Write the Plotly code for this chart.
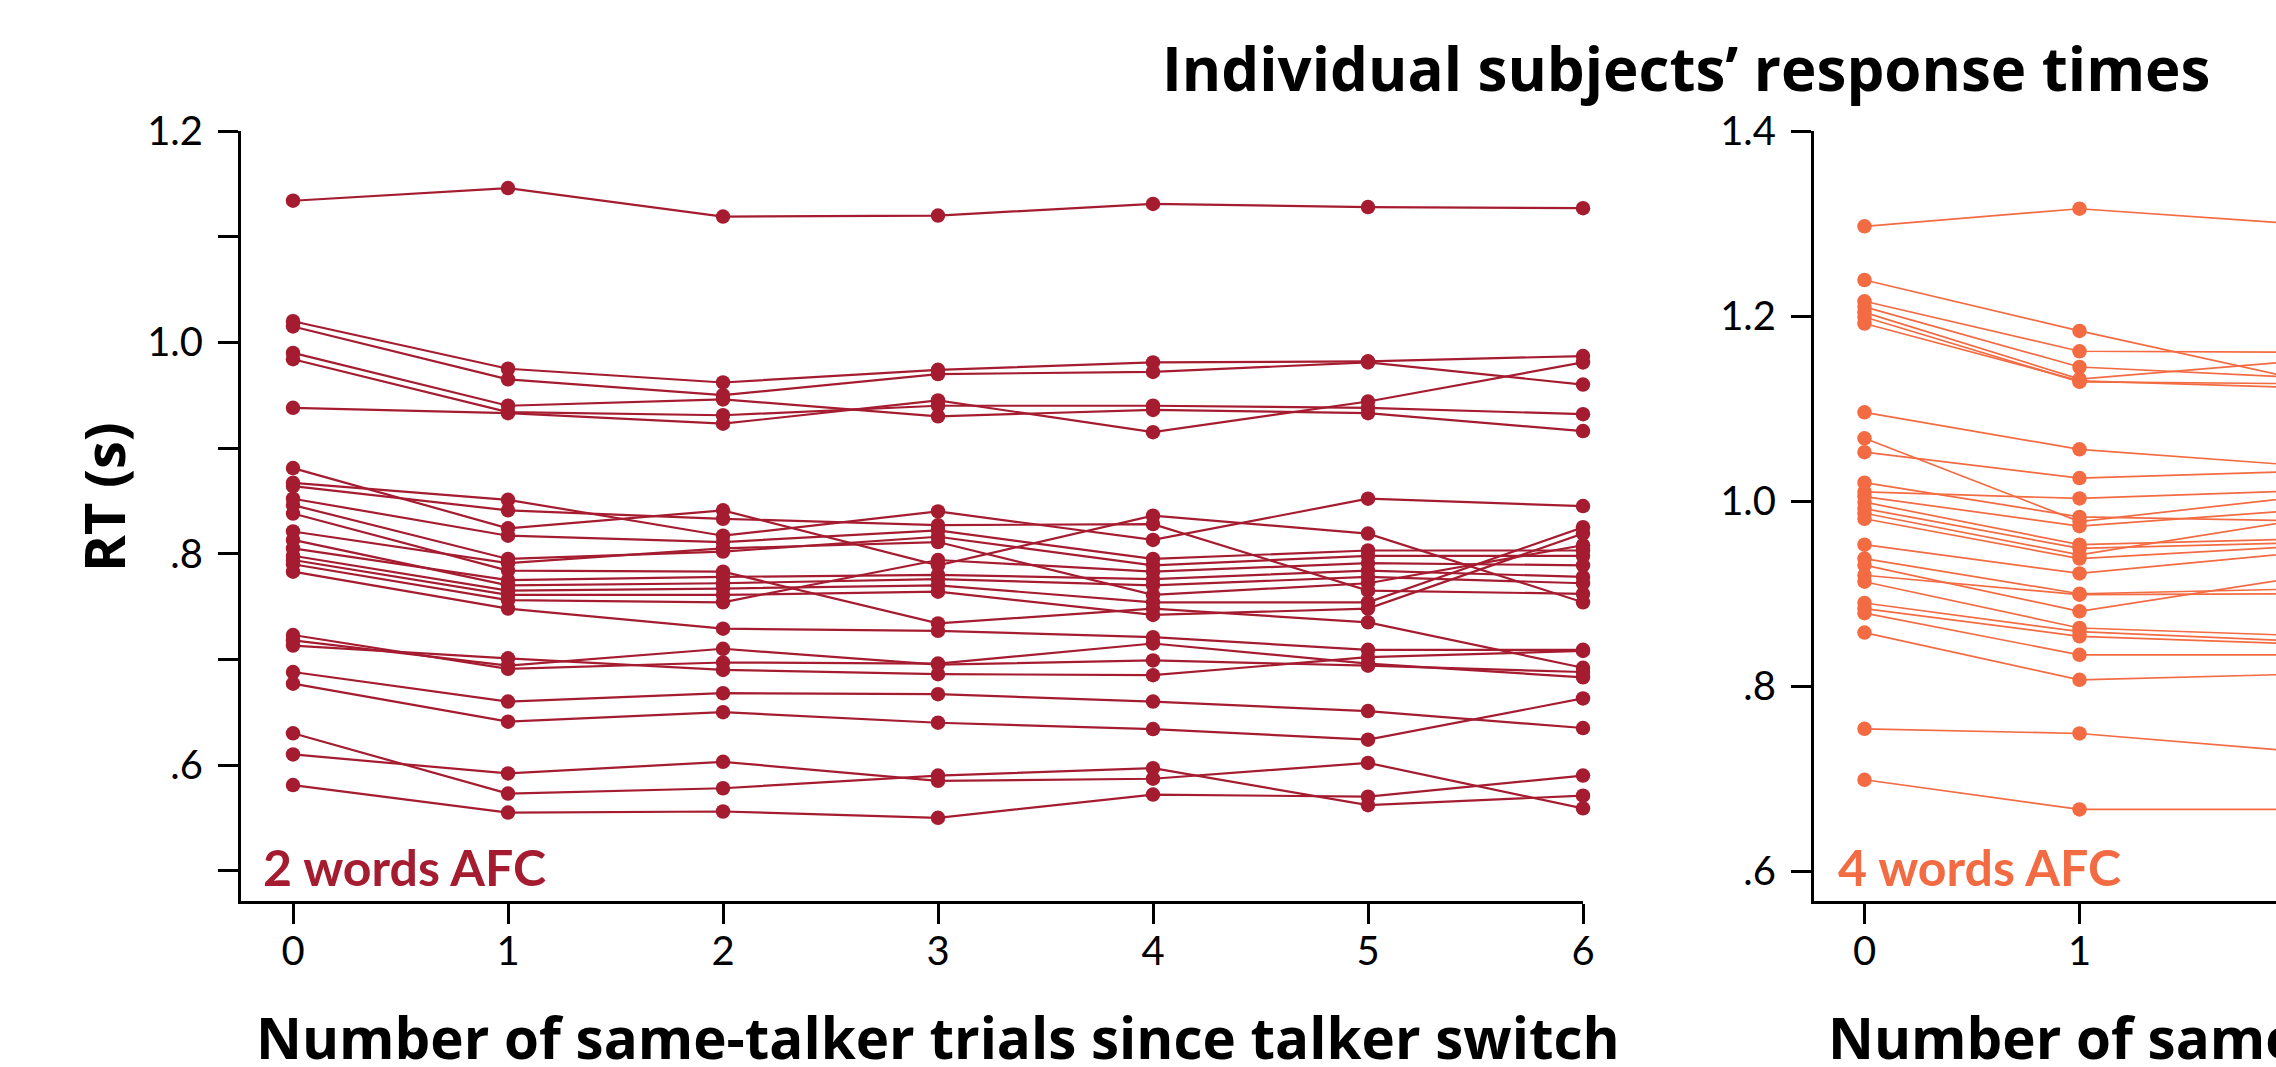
import plotly.graph_objects as go

# Trial positions since the last talker switch
trials_2afc = [0, 1, 2, 3, 4, 5, 6]
trials_4afc = [0, 1, 2]
x_tick_labels = ["0", "1", "2", "3", "4", "5", "6"]

# 2-word AFC: one list per trial position, one entry per subject (RT in s)
rt2_t0 = [1.134, 1.020, 1.015, 0.990, 0.984, 0.938, 0.881, 0.867, 0.864, 0.852, 0.846, 0.838, 0.821, 0.813,
          0.805, 0.798, 0.794, 0.790, 0.783, 0.723, 0.718, 0.713, 0.688, 0.677, 0.630, 0.610, 0.581]
rt2_t1 = [1.146, 0.975, 0.965, 0.940, 0.934, 0.933, 0.824, 0.851, 0.841, 0.817, 0.795, 0.784, 0.791, 0.770,
          0.775, 0.765, 0.761, 0.756, 0.748, 0.691, 0.694, 0.701, 0.660, 0.641, 0.573, 0.592, 0.555]
rt2_t2 = [1.119, 0.962, 0.950, 0.946, 0.931, 0.923, 0.841, 0.817, 0.833, 0.811, 0.802, 0.783, 0.805, 0.772,
          0.778, 0.767, 0.761, 0.754, 0.729, 0.697, 0.710, 0.690, 0.668, 0.650, 0.578, 0.603, 0.556]
rt2_t3 = [1.120, 0.974, 0.970, 0.930, 0.940, 0.945, 0.789, 0.840, 0.827, 0.822, 0.816, 0.734, 0.811, 0.776,
          0.780, 0.770, 0.764, 0.794, 0.727, 0.696, 0.695, 0.686, 0.667, 0.640, 0.590, 0.585, 0.550]
rt2_t4 = [1.131, 0.981, 0.972, 0.936, 0.940, 0.915, 0.836, 0.813, 0.828, 0.795, 0.789, 0.748, 0.761, 0.770,
          0.776, 0.754, 0.742, 0.783, 0.721, 0.715, 0.699, 0.685, 0.660, 0.634, 0.597, 0.587, 0.572]
rt2_t5 = [1.128, 0.982, 0.981, 0.933, 0.938, 0.944, 0.819, 0.852, 0.765, 0.803, 0.798, 0.735, 0.772, 0.778,
          0.784, 0.754, 0.748, 0.791, 0.709, 0.696, 0.694, 0.702, 0.651, 0.624, 0.562, 0.602, 0.570]
rt2_t6 = [1.127, 0.987, 0.960, 0.916, 0.932, 0.981, 0.754, 0.845, 0.762, 0.803, 0.798, 0.692, 0.808, 0.772,
          0.778, 0.825, 0.819, 0.789, 0.709, 0.683, 0.688, 0.708, 0.635, 0.663, 0.571, 0.559, 0.590]

# 4-word AFC: same layout, first three trial positions
rt4_t0 = [1.297, 1.239, 1.216, 1.210, 1.204, 1.199, 1.192, 1.096, 1.068, 1.053, 1.020, 1.010, 1.005, 0.999,
          0.992, 0.987, 0.981, 0.953, 0.938, 0.931, 0.920, 0.913, 0.890, 0.884, 0.879, 0.858, 0.754, 0.699]
rt4_t1 = [1.316, 1.184, 1.162, 1.145, 1.132, 1.129, 1.130, 1.056, 0.978, 1.025, 0.983, 1.003, 0.973, 0.953,
          0.949, 0.942, 0.938, 0.922, 0.900, 0.881, 0.899, 0.863, 0.859, 0.854, 0.834, 0.807, 0.749, 0.667]
rt4_t2 = [1.300, 1.133, 1.161, 1.134, 1.151, 1.127, 1.123, 1.039, 1.004, 1.032, 0.979, 1.011, 0.990, 0.959,
          0.955, 0.979, 0.951, 0.944, 0.905, 0.917, 0.900, 0.855, 0.849, 0.846, 0.834, 0.813, 0.730, 0.667]

y2_ticks = [0.5, 0.6, 0.7, 0.8, 0.9, 1.0, 1.1, 1.2]
y2_labels = ["", ".6", "", ".8", "", "1.0", "", "1.2"]
y4_ticks = [0.6, 0.8, 1.0, 1.2, 1.4]
y4_labels = [".6", ".8", "1.0", "1.2", "1.4"]

title_text = "Individual subjects’ response times"
xlabel_text = "Number of same-talker trials since talker switch"
ylabel_text = "RT (s)"
panel_labels = ["2 words AFC", "4 words AFC"]

CRIMSON = "#A51C30"
ORANGE = "#F26B43"
W, H = 2276, 1067
TICK_FONT = "Lato"
HEAD_FONT = "Open Sans"

fig = go.Figure()

rows2 = list(zip(rt2_t0, rt2_t1, rt2_t2, rt2_t3, rt2_t4, rt2_t5, rt2_t6))
for subj in rows2:
    fig.add_trace(go.Scatter(
        x=trials_2afc, y=list(subj), mode="lines+markers", xaxis="x", yaxis="y",
        line=dict(color=CRIMSON, width=2.2), marker=dict(color=CRIMSON, size=14.5),
        cliponaxis=False, showlegend=False, hoverinfo="skip"))

rows4 = list(zip(rt4_t0, rt4_t1, rt4_t2))
for subj in rows4:
    fig.add_trace(go.Scatter(
        x=trials_4afc, y=list(subj), mode="lines+markers", xaxis="x2", yaxis="y2",
        line=dict(color=ORANGE, width=1.7), marker=dict(color=ORANGE, size=14.5),
        cliponaxis=False, showlegend=False, hoverinfo="skip"))


def px_x(p):
    return p / W


def px_y(p):
    return (H - p) / H


axis_common = dict(
    showline=True, linecolor="black", linewidth=3,
    ticks="outside", ticklen=20, tickwidth=3, tickcolor="black",
    showgrid=False, zeroline=False, automargin=False,
    tickfont=dict(family=TICK_FONT, size=40, color="black"),
)

y_dom = [px_y(901), px_y(131)]

fig.update_layout(
    width=W, height=H, autosize=False,
    margin=dict(l=0, r=0, t=0, b=0, pad=0),
    paper_bgcolor="white", plot_bgcolor="white",
    xaxis=dict(domain=[px_x(241), px_x(1583)], range=[-0.2419, 6],
               tickvals=trials_2afc, ticktext=x_tick_labels, anchor="y",
               ticklabelstandoff=-7, **axis_common),
    yaxis=dict(domain=y_dom, range=[0.4713, 1.2], tickvals=y2_ticks, ticktext=y2_labels,
               anchor="x", ticklabelstandoff=7, **axis_common),
    xaxis2=dict(domain=[px_x(1814), 1.0], range=[-0.2349, 1.9139],
                tickvals=[0, 1, 2], ticktext=x_tick_labels[:3], anchor="y2",
                ticklabelstandoff=-7, **axis_common),
    yaxis2=dict(domain=y_dom, range=[0.568, 1.4], tickvals=y4_ticks, ticktext=y4_labels,
                anchor="x2", ticklabelstandoff=7, **axis_common),
)

title_font = dict(family=HEAD_FONT, size=60, color="black", weight=700)
xlabel_font = dict(family=HEAD_FONT, size=56.5, color="black", weight=700)

annotations = [
    dict(text=title_text, x=px_x(1686), y=px_y(68), xref="paper", yref="paper",
         xanchor="center", yanchor="middle", showarrow=False, font=title_font),
    dict(text=xlabel_text, x=px_x(938), y=px_y(1037), xref="paper", yref="paper",
         xanchor="center", yanchor="middle", showarrow=False, font=xlabel_font),
    dict(text=xlabel_text, x=px_x(938 + 1571.5), y=px_y(1037), xref="paper", yref="paper",
         xanchor="center", yanchor="middle", showarrow=False, font=xlabel_font),
    dict(text=ylabel_text, x=px_x(103), y=px_y(497), xref="paper", yref="paper",
         xanchor="center", yanchor="middle", showarrow=False, textangle=-90,
         font=dict(family=HEAD_FONT, size=56, color="black", weight=700)),
    dict(text=panel_labels[0], x=px_x(261), y=px_y(867), xref="paper", yref="paper",
         xanchor="left", yanchor="middle", showarrow=False,
         font=dict(family=TICK_FONT, size=50, color=CRIMSON, weight=700)),
    dict(text=panel_labels[1], x=px_x(1836), y=px_y(867), xref="paper", yref="paper",
         xanchor="left", yanchor="middle", showarrow=False,
         font=dict(family=TICK_FONT, size=50, color=ORANGE, weight=700)),
]
fig.update_layout(annotations=annotations)

fig.write_html("out.html", config={"displayModeBar": False})
